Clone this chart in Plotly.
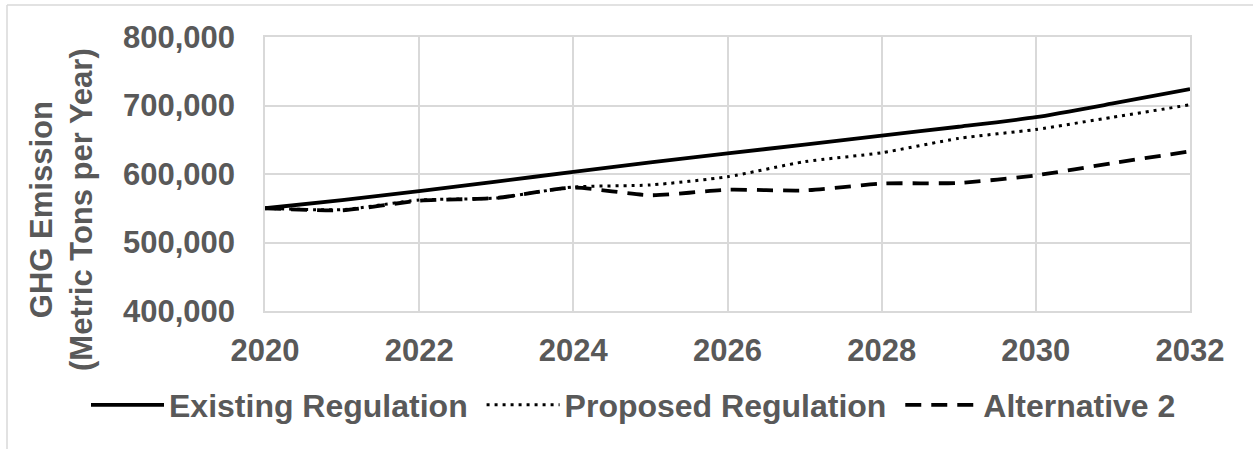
import plotly.graph_objects as go

years = [2020, 2021, 2022, 2023, 2024, 2025, 2026, 2027, 2028, 2029, 2030, 2031, 2032]
existing = [550000, 562000, 575000, 589000, 603000, 617000, 630000, 643000, 656000, 669000, 683000, 703000, 724000]
proposed = [550000, 548000, 562000, 565000, 581000, 584000, 596000, 618000, 631000, 652000, 665000, 683000, 701000]
alternative2 = [550000, 547000, 561000, 565000, 580000, 569000, 577000, 576000, 586000, 587000, 598000, 616000, 633000]

series_names = ["Existing Regulation", "Proposed Regulation", "Alternative 2"]
y_ticks = [400000, 500000, 600000, 700000, 800000]
x_ticks = [2020, 2022, 2024, 2026, 2028, 2030, 2032]

FONT = "Liberation Sans, Arial, sans-serif"
GREY = "#595959"
GRID = "#d9d9d9"
FS = 31
LFS = 32
PAD = "\u00a0"

W, H = 1253, 449
L, R, T, B = 265, 1190, 37, 311

fig = go.Figure()
fig.add_trace(go.Scatter(x=years, y=existing, name=series_names[0] + PAD, mode="lines",
                         line=dict(color="black", width=3.8, shape="spline", smoothing=0.6)))
fig.add_trace(go.Scatter(x=years, y=proposed, name=series_names[1] + PAD, mode="lines",
                         line=dict(color="black", width=3, dash="3px,5px", shape="spline", smoothing=0.6)))
fig.add_trace(go.Scatter(x=years, y=alternative2, name=series_names[2], mode="lines",
                         line=dict(color="black", width=3.8, dash="16px,10px", shape="spline", smoothing=0.6)))

def px_x(p):
    return (p - L) / (R - L)

def px_y(p):
    return (B - p) / (B - T)

fig.update_layout(
    width=W, height=H,
    margin=dict(l=L, r=W - R, t=T, b=H - B, pad=0, autoexpand=False),
    paper_bgcolor="white", plot_bgcolor="white",
    font=dict(family=FONT, size=FS, color=GREY),
    xaxis=dict(range=[2020, 2032], tickvals=x_ticks, ticktext=[str(v) for v in x_ticks],
               showgrid=True, gridcolor=GRID, gridwidth=1.5, zeroline=False,
               showline=True, linecolor=GRID, linewidth=1.5, mirror=True,
               ticks="", ticklabelstandoff=11, automargin=False,
               tickfont=dict(family=FONT, size=FS, color=GREY, weight="bold")),
    yaxis=dict(range=[400000, 800000], tickvals=y_ticks,
               ticktext=[f"{v:,}" for v in y_ticks],
               showgrid=True, gridcolor=GRID, gridwidth=1.5, zeroline=False,
               showline=True, linecolor=GRID, linewidth=1.5, mirror=True,
               ticks="", ticklabelstandoff=22, automargin=False,
               tickfont=dict(family=FONT, size=FS, color=GREY, weight="bold")),
    showlegend=True,
    legend=dict(orientation="h", xref="paper", yref="paper",
                x=px_x(86), xanchor="left", y=px_y(405), yanchor="middle",
                font=dict(family=FONT, size=LFS, color=GREY, weight="bold"),
                itemwidth=73, tracegroupgap=0, bgcolor="rgba(0,0,0,0)"),
    annotations=[dict(text="GHG Emission<br>(Metric Tons per Year)", xref="paper", yref="paper",
                      x=px_x(61), y=px_y(210), xanchor="center", yanchor="middle",
                      textangle=-90, showarrow=False,
                      font=dict(family=FONT, size=FS, color=GREY, weight="bold"))],
    shapes=[
        dict(type="line", xref="paper", yref="paper", x0=px_x(7), x1=px_x(1260), y0=px_y(5), y1=px_y(5),
             line=dict(color=GRID, width=1.5)),
        dict(type="line", xref="paper", yref="paper", x0=px_x(7), x1=px_x(7), y0=px_y(5), y1=px_y(460),
             line=dict(color=GRID, width=1.5)),
    ],
)

fig.write_html("out.html", config={"displayModeBar": False},
               post_script="document.body.style.margin='0';")
